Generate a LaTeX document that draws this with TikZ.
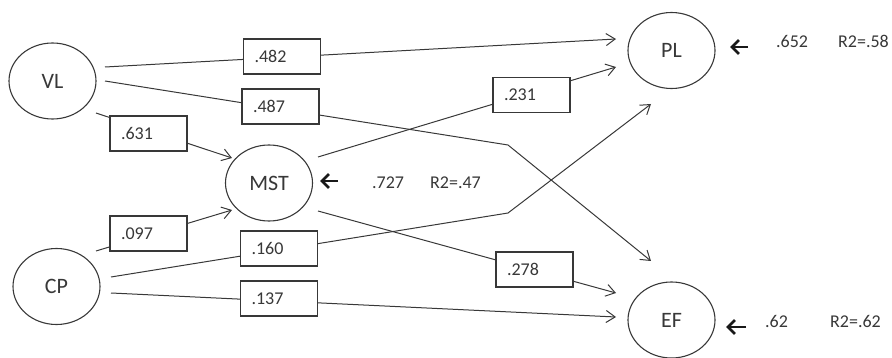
\documentclass[tikz,border=0pt]{standalone}
\usepackage{fontspec}
\setmainfont{Carlito}
\usetikzlibrary{shapes.geometric,arrows.meta}
\definecolor{ink}{HTML}{383838}
\tikzset{
  latent/.style={draw=ink, line width=1.1pt, ellipse, minimum width=87pt, minimum height=76pt, inner sep=0pt, font=\fontsize{22}{24}\selectfont, text=ink},
  coef/.style={draw=ink, line width=1.1pt, fill=white, rectangle, inner xsep=11pt, inner ysep=0pt, text width=55pt, align=left, minimum height=35pt, font=\fontsize{18}{20}\selectfont, text=ink},
  path/.style={draw=ink, line width=1pt, -{Straight Barb[length=9pt,width=12pt,line width=1pt]}},
  resid/.style={draw=black!90, line width=2.6pt, -{Straight Barb[length=7pt,width=14pt,line width=2.8pt]}},
  sidetxt/.style={anchor=west, inner sep=0pt, font=\fontsize{18}{20}\selectfont, text=ink},
}
\begin{document}
\begin{tikzpicture}[x=1pt,y=-1pt]
\useasboundingbox (0,0) rectangle (892,358);
% latent variables
\node[latent] (vl) at (52.5,81) {VL};
\node[latent] (mst) at (269,183) {MST};
\node[latent] (cp) at (56.5,286.5) {CP};
\node[latent] (pl) at (671.5,50.5) {PL};
\node[latent] (ef) at (671.5,320) {EF};
% connector end points
\coordinate (s1) at (105,67);  \coordinate (e1) at (616,39);
\coordinate (s2) at (105,81);  \coordinate (k2) at (508,145); \coordinate (e2) at (651,261);
\coordinate (s3) at (96,113);  \coordinate (e3) at (232,158);
\coordinate (s4) at (96,251);  \coordinate (e4) at (232,210);
\coordinate (s5) at (111,277); \coordinate (k5) at (508,213); \coordinate (e5) at (651,104);
\coordinate (s6) at (111,293); \coordinate (e6) at (616,317);
\coordinate (s7) at (318,157); \coordinate (e7) at (616,67);
\coordinate (s8) at (318,211); \coordinate (e8) at (616,293);
% connectors
\draw[path] (s1) -- (e1);
\draw[path] (s2) -- (k2) -- (e2);
\draw[path] (s3) -- (e3);
\draw[path] (s4) -- (e4);
\draw[path] (s5) -- (k5) -- (e5);
\draw[path] (s6) -- (e6);
\draw[path] (s7) -- (e7);
\draw[path] (s8) -- (e8);
% coefficient boxes
\node[coef] (b482) at (282,56.5) {.482};
\node[coef] (b487) at (280.5,106.5) {.487};
\node[coef] (b631) at (148.5,133.5) {.631};
\node[coef] (b097) at (148.5,233.5) {.097};
\node[coef] (b160) at (279,248.5) {.160};
\node[coef] (b137) at (279,298.5) {.137};
\node[coef] (b231) at (531.5,95) {.231};
\node[coef] (b278) at (534.5,269.5) {.278};
% residuals
\coordinate (rpl) at (748,47);  \coordinate (rpl2) at (730,47);
\coordinate (rmst) at (338,181); \coordinate (rmst2) at (320,181);
\coordinate (ref) at (746,327); \coordinate (ref2) at (726,327);
\draw[resid] (rpl) -- (rpl2);
\draw[resid] (rmst) -- (rmst2);
\draw[resid] (ref) -- (ref2);
\node[sidetxt] (tpl1) at (776,41) {.652};
\node[sidetxt] (tpl2) at (838,41) {R2=.58};
\node[sidetxt] (tmst1) at (372,183) {.727};
\node[sidetxt] (tmst2) at (430,183) {R2=.47};
\node[sidetxt] (tef1) at (765,321) {.62};
\node[sidetxt] (tef2) at (830,321) {R2=.62};
\end{tikzpicture}
\end{document}
